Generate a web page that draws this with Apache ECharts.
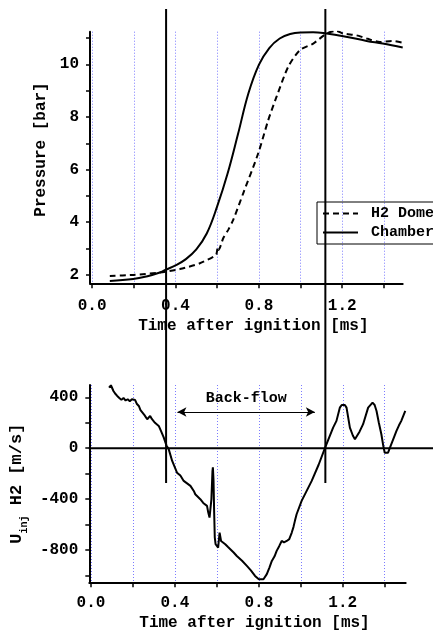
<!DOCTYPE html>
<html><head><meta charset="utf-8">
<script src="https://cdn.jsdelivr.net/npm/echarts@6/dist/echarts.min.js"></script>
<style>html,body{margin:0;padding:0;background:#fff}#c{width:433px;height:633px}</style>
</head><body><div id="c"></div>
<script>
// ---- data ----
const chamberT = [0.085,0.197,0.261,0.325,0.354,0.4,0.45,0.5,0.55,0.6,0.65,0.7,0.75,0.8,0.85,0.9,0.95,1.0,1.06,1.125,1.205,1.317,1.394,1.49];
const chamberP = [1.77,1.84,1.94,2.09,2.2,2.36,2.6,2.97,3.57,4.6,5.85,7.35,8.9,9.98,10.62,10.98,11.15,11.21,11.22,11.17,11.07,10.89,10.79,10.64];
const domeT = [0.085,0.197,0.325,0.421,0.517,0.589,0.597,0.603,0.607,0.629,0.653,0.677,0.725,0.797,0.845,0.885,0.941,0.997,1.061,1.125,1.173,1.205,1.269,1.317,1.381,1.437,1.49];
const domeP = [1.96,2.0,2.09,2.22,2.44,2.72,2.8,3.06,2.95,3.39,3.71,4.09,5.1,6.62,7.88,8.77,9.91,10.54,10.79,11.17,11.27,11.17,11.1,10.98,10.85,10.89,10.82];
const velT = [0.086,0.095,0.101,0.107,0.115,0.125,0.135,0.145,0.155,0.165,0.175,0.185,0.195,0.204,0.21,0.218,0.228,0.236,0.244,0.255,0.268,0.276,0.282,0.29,0.305,0.323,0.335,0.347,0.36,0.37,0.387,0.41,0.426,0.442,0.474,0.49,0.497,0.521,0.535,0.553,0.559,0.565,0.569,0.574,0.579,0.581,0.584,0.587,0.59,0.594,0.6,0.606,0.613,0.62,0.626,0.64,0.652,0.664,0.68,0.695,0.72,0.743,0.762,0.782,0.8,0.806,0.822,0.838,0.85,0.862,0.875,0.885,0.897,0.909,0.92,0.933,0.945,0.957,0.965,0.972,0.98,1.004,1.052,1.085,1.115,1.154,1.17,1.186,1.195,1.202,1.21,1.218,1.226,1.234,1.248,1.258,1.266,1.28,1.297,1.321,1.342,1.352,1.361,1.372,1.384,1.393,1.4,1.416,1.431,1.445,1.456,1.468,1.479,1.498];
const velU = [476,495,490,450,430,411,395,380,395,375,385,370,385,372,380,350,332,300,293,260,228,240,254,230,200,175,130,83,20,-5,-100,-192,-215,-257,-296,-336,-362,-401,-430,-453,-506,-545,-560,-400,-180,-150,-250,-500,-700,-755,-770,-781,-663,-729,-740,-755,-775,-794,-820,-847,-885,-925,-960,-1004,-1030,-1035,-1030,-990,-940,-886,-850,-807,-770,-729,-740,-729,-715,-663,-620,-571,-519,-414,-257,-130,0,162,215,319,340,346,340,319,240,162,100,71,83,130,189,319,358,340,293,200,110,20,-35,-35,31,90,136,180,215,293];
const xTicks = [0,0.2,0.4,0.6,0.8,1.0,1.2,1.4];
const xLabels = [0,0.4,0.8,1.2];
const pTicks = [2,3,4,5,6,7,8,9,10,11];
const pLabels = [2,4,6,8,10];
const uTicks = [-1000,-800,-600,-400,-200,0,200,400];
const uLabels = [-800,-400,0,400];
const markerTimes = [0.355,1.119];
const zeroLevel = [0];
const backflowT = [0.412,1.067];
const backflowU = [285];

const F = 'Liberation Mono';
const zip = (a,b)=>a.map((v,i)=>[v,b[i]]);
const axisLine = {show:true, onZero:false, lineStyle:{color:'#000', width:2}};
const split = {show:true, lineStyle:{color:'#7b7bff', type:[1,2], width:1}};

function xAx(grid, min, max, gap, margin){
  return {type:'value', gridIndex:grid, min:min, max:max,
    axisLine:axisLine,
    axisTick:{show:true, customValues:xTicks, length:5, lineStyle:{color:'#000',width:1.5}},
    axisLabel:{customValues:xLabels, margin:margin, color:'#000', fontFamily:F, fontWeight:'bold', fontSize:16,
      formatter:v=>v.toFixed(1)},
    splitLine:split,
    name:'Time after ignition [ms]', nameLocation:'middle', nameGap:gap,
    nameTextStyle:{color:'#000', fontFamily:F, fontWeight:'bold', fontSize:16, padding:[0,0,0,14]}};
}

const chart = echarts.init(document.getElementById('c'), null, {renderer:'canvas'});
chart.setOption({
  animation:false,
  backgroundColor:'#fff',
  grid:[
    {left:90, right:30.3, top:31.7, bottom:349.7},
    {left:88.7, right:27.3, top:385, bottom:50.7},
    {left:90, right:30.3, top:9, bottom:150},
    {left:88.7, right:0, top:385, bottom:50.7}
  ],
  xAxis:[
    xAx(0,-0.01,1.49,35,15),
    xAx(1,-0.008,1.5,33,13),
    {type:'value', gridIndex:2, min:-0.01, max:1.49, show:false},
    {type:'value', gridIndex:3, min:0, max:1, show:false}
  ],
  yAxis:[
    {type:'value', gridIndex:0, min:1.68, max:11.24, axisLine:axisLine,
     axisTick:{show:true, customValues:pTicks, length:4, lineStyle:{color:'#000',width:1.5}},
     axisLabel:{customValues:pLabels, margin:11, color:'#000', fontFamily:F, fontWeight:'bold', fontSize:16},
     splitLine:{show:false},
     name:'Pressure [bar]', nameLocation:'middle', nameGap:38,
     nameTextStyle:{color:'#000', fontFamily:F, fontWeight:'bold', fontSize:16, padding:[0,0,0,16]}},
    {type:'value', gridIndex:1, min:-1054, max:497, axisLine:axisLine,
     axisTick:{show:true, customValues:uTicks, length:4, lineStyle:{color:'#000',width:1.5}},
     axisLabel:{customValues:uLabels, margin:11, color:'#000', fontFamily:F, fontWeight:'bold', fontSize:16},
     splitLine:{show:false},
     name:'{u|U}{s|inj}{u| H2 [m/s]}', nameLocation:'middle', nameGap:54,
     nameTextStyle:{color:'#000', fontFamily:F, fontWeight:'bold', fontSize:16,
       rich:{u:{fontFamily:F, fontWeight:'bold', fontSize:17, color:'#000', verticalAlign:'bottom', padding:[0,0,4,0]},
             s:{fontFamily:F, fontSize:10, color:'#000', verticalAlign:'bottom'}}}},
    {type:'value', gridIndex:2, min:0, max:1, show:false},
    {type:'value', gridIndex:3, min:-1054, max:497, show:false}
  ],
  legend:{data:['H2 Dome','Chamber'], orient:'vertical', left:317, top:202,
    padding:[4,5,4,5], itemGap:4, itemWidth:35, itemHeight:14,
    itemStyle:{opacity:0},
    borderColor:'#000', borderWidth:1, borderRadius:0,
    textStyle:{color:'#000', fontFamily:F, fontWeight:'bold', fontSize:15, padding:[0,0,0,8]}},
  series:[
    {name:'H2 Dome', type:'line', xAxisIndex:0, yAxisIndex:0, data:zip(domeT,domeP), symbol:'none', smooth:0.25,
     lineStyle:{color:'#000', width:2, type:[6,4]}, itemStyle:{color:'#000'}},
    {name:'Chamber', type:'line', xAxisIndex:0, yAxisIndex:0, data:zip(chamberT,chamberP), symbol:'none', smooth:0.4,
     lineStyle:{color:'#000', width:2}, itemStyle:{color:'#000'}},
    {name:'U', type:'line', xAxisIndex:1, yAxisIndex:1, data:zip(velT,velU), symbol:'none',
     lineStyle:{color:'#000', width:2}, itemStyle:{color:'#000'},
     markLine:{silent:true, symbol:['arrow','arrow'], symbolSize:[7,9],
       lineStyle:{color:'#000', width:1.2, type:'solid'},
       label:{show:true, position:'middle', formatter:'Back-flow', color:'#000', fontFamily:F, fontWeight:'bold', fontSize:15, distance:6},
       data:[[{coord:[backflowT[0],backflowU[0]]},{coord:[backflowT[1],backflowU[0]]}]]}},
    {name:'zero', type:'line', xAxisIndex:3, yAxisIndex:3, data:[[0,zeroLevel[0]],[1,zeroLevel[0]]], symbol:'none',
     lineStyle:{color:'#000', width:2}, z:4},
    ...markerTimes.map((t,i)=>({name:'m'+i, type:'line', xAxisIndex:2, yAxisIndex:2, data:[[t,0],[t,1]], symbol:'none',
     lineStyle:{color:'#000', width:2}, z:5}))
  ]
});
</script></body></html>
